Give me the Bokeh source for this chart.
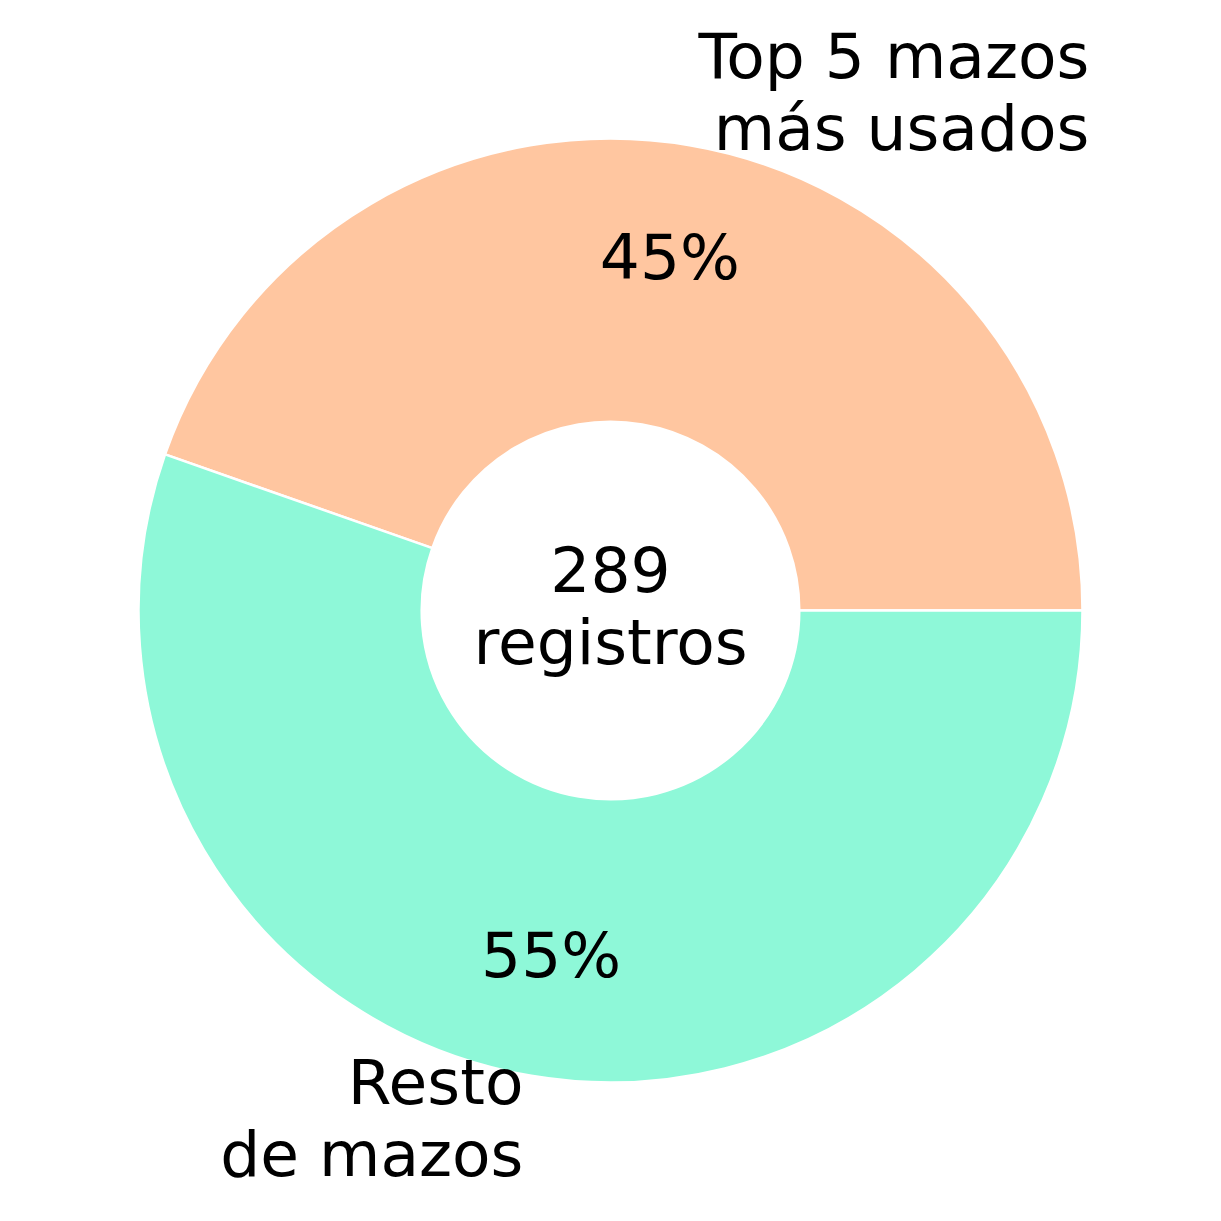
import math
from bokeh.plotting import figure
from bokeh.models import ColumnDataSource, Range1d
from bokeh.core.properties import value
from bokeh.embed import file_html
from bokeh.resources import INLINE

# Data
categories = ["Top 5 mazos\nmás usados", "Resto\nde mazos"]
counts = [129, 160]
colors = ["#FFC6A0", "#8EF8D8"]
center_label = "registros"

total = sum(counts)
starts, ends, mids = [], [], []
acc = 0.0
for c in counts:
    a0 = 2 * math.pi * acc / total
    acc += c
    a1 = 2 * math.pi * acc / total
    starts.append(a0)
    ends.append(a1)
    mids.append((a0 + a1) / 2)

pct_text = [f"{round(100 * c / total)}%" for c in counts]

R_OUT, R_IN = 1.0, 0.4
PCT_DIST, LAB_DIST = 0.75, 1.1

scale = 472.0
W = H = 1210
cx = cy = 610
p = figure(width=W, height=H, output_backend="svg", toolbar_location=None,
           x_range=Range1d(-cx / scale, (W - cx) / scale),
           y_range=Range1d(-(H - cy) / scale, cy / scale),
           min_border=0)
p.axis.visible = False
p.grid.visible = False
p.outline_line_color = None
p.background_fill_color = "white"

src = ColumnDataSource(dict(start=starts, end=ends, color=colors))
p.annular_wedge(x=0, y=0, inner_radius=R_IN, outer_radius=R_OUT,
                start_angle="start", end_angle="end", fill_color="color",
                line_color="white", line_width=2.5, source=src)

font = value("DejaVu Sans")
fs = "63px"
LH = 0.98
YOFF = -4

# percent labels
px = [PCT_DIST * math.cos(m) for m in mids]
py = [PCT_DIST * math.sin(m) for m in mids]
p.text(x=px, y=py, text=pct_text, text_font=font, text_font_size=fs,
       text_align="center", text_baseline="middle", text_color="black",
       y_offset=YOFF)

# category labels (right aligned like the reference)
lx = [LAB_DIST * math.cos(m) for m in mids]
ly = [LAB_DIST * math.sin(m) for m in mids]
top_right = lx[0] + 0.83
p.text(x=[top_right], y=[ly[0]], text=[categories[0]], text_font=font,
       text_font_size=fs, text_align="right", text_baseline="middle",
       text_line_height=LH, text_color="black", y_offset=YOFF - 2)
p.text(x=[lx[1]], y=[ly[1]], text=[categories[1]], text_font=font,
       text_font_size=fs, text_align="right", text_baseline="middle",
       text_line_height=LH, text_color="black", y_offset=YOFF)

# center text
p.text(x=[0], y=[0], text=[f"{total}\n{center_label}"], text_font=font,
       text_font_size=fs, text_align="center", text_baseline="middle",
       text_line_height=LH, text_color="black", y_offset=YOFF)

open("out.html", "w").write(file_html(p, INLINE))
